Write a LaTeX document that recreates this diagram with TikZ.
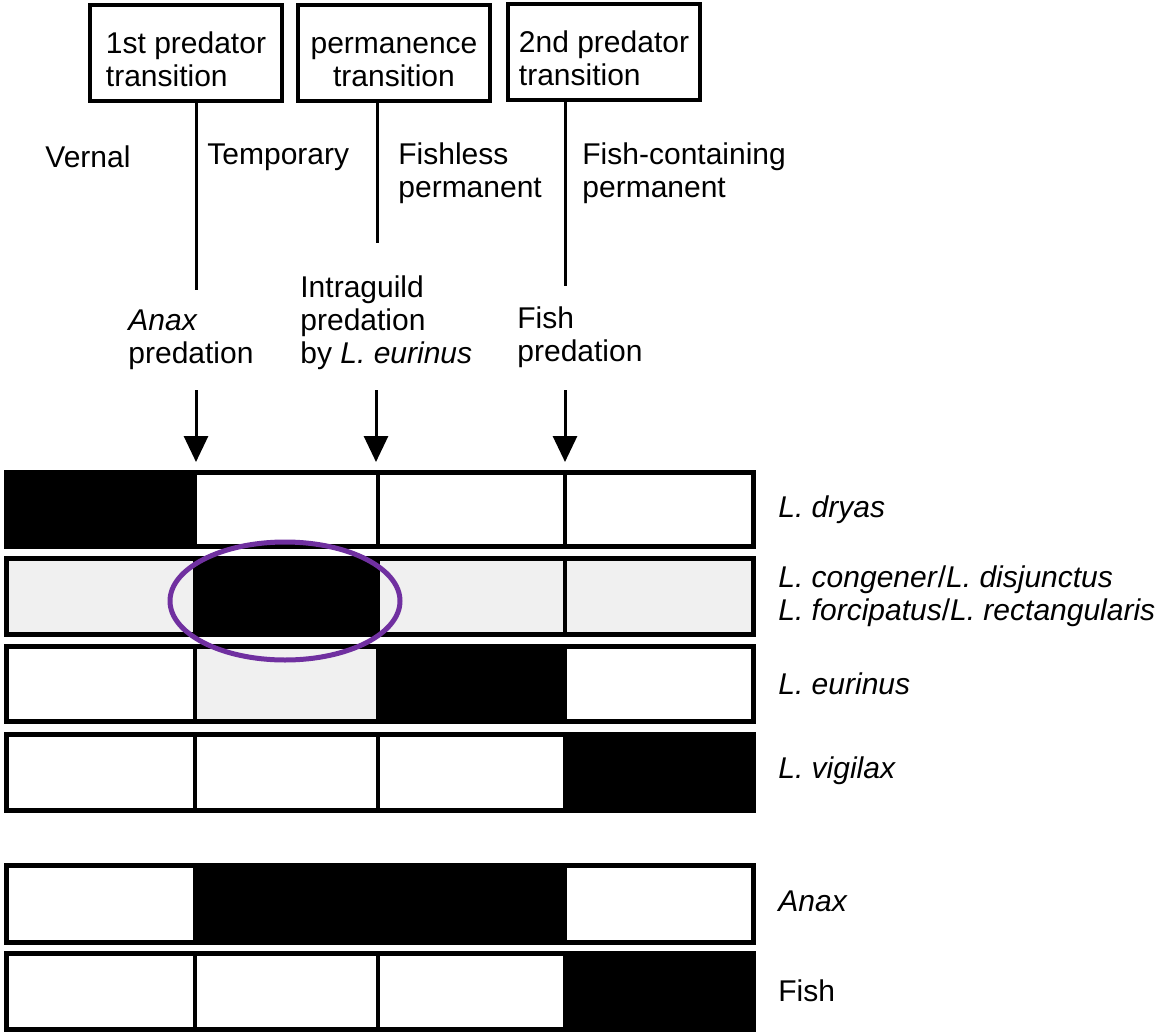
\documentclass[tikz,border=0pt]{standalone}
\usepackage{fontspec}
\setmainfont{Liberation Sans}
\usetikzlibrary{arrows.meta}
\definecolor{stip}{gray}{0.94}
\definecolor{ringpurple}{RGB}{112,48,160}
\newcommand\topstrut{\rule{0pt}{17.5pt}}
\begin{document}
\begin{tikzpicture}[x=0.5pt,y=-0.5pt,
  txt/.style={font=\fontsize{15}{16.5}\selectfont, inner sep=0pt, align=left},
  tbox/.style={txt, draw, line width=2pt, minimum width=96pt, minimum height=48pt},
  conn/.style={line width=1.5pt},
  arr/.style={line width=1.5pt, -{Triangle[width=12pt,length=13pt]}},
  barline/.style={line width=2.5pt},
  divline/.style={line width=2pt},
  ring/.style={draw=ringpurple, line width=2.5pt}
]
\useasboundingbox (0,0) rectangle (1176,1032);

% transition boxes
\node[tbox] (t1) at (186,53) {\topstrut 1st predator\\transition};
\node[tbox, align=center] (t2) at (394,53) {\topstrut permanence\\transition};
\node[tbox] (t3) at (604,52) {\topstrut 2nd predator\\transition};

% lines hanging from the boxes
\coordinate (d1) at (196,290);
\coordinate (d2) at (377,243);
\coordinate (d3) at (565,286);
\draw[conn] (t1.south -| d1) -- (d1);
\draw[conn] (t2.south -| d2) -- (d2);
\draw[conn] (t3.south -| d3) -- (d3);

% habitat names
\node[txt, anchor=west] (h1) at (45,157) {Vernal};
\node[txt, anchor=west] (h2) at (207,157) {Temporary};
\node[txt, anchor=west] (h3) at (398,173) {Fishless\\permanent};
\node[txt, anchor=west] (h4) at (582,173) {Fish-containing\\permanent};

% predation agents
\node[txt, anchor=west] (p1) at (128,340) {\textit{Anax}\\predation};
\node[txt, anchor=west] (p2) at (300,323) {Intraguild\\predation\\by \textit{L. eurinus}};
\node[txt, anchor=west] (p3) at (517,337) {Fish\\predation};

% column edges
\def\xa{6}\def\xb{195}\def\xc{378}\def\xd{565}\def\xe{753}

% arrows down to the first bar
\coordinate (a1) at (196,390);
\coordinate (a2) at (376,390);
\coordinate (a3) at (565,390);
\coordinate (r1top) at (0,462);
\draw[arr] (a1) -- (a1 |- r1top);
\draw[arr] (a2) -- (a2 |- r1top);
\draw[arr] (a3) -- (a3 |- r1top);

% bars: #1 top, #2 bottom, #3..#6 fills of the four cells
\newcommand\occbar[6]{%
  \fill[#3] (\xa,#1) rectangle (\xb,#2);
  \fill[#4] (\xb,#1) rectangle (\xc,#2);
  \fill[#5] (\xc,#1) rectangle (\xd,#2);
  \fill[#6] (\xd,#1) rectangle (\xe,#2);
  \draw[divline] (\xb,#1) -- (\xb,#2) (\xc,#1) -- (\xc,#2) (\xd,#1) -- (\xd,#2);
  \draw[barline] (\xa,#1) rectangle (\xe,#2);
}
\occbar{472}{546}{black}{white}{white}{white}
\occbar{558}{634}{stip}{black}{stip}{stip}
\occbar{646}{721}{white}{stip}{black}{white}
\occbar{734}{810}{white}{white}{white}{black}
\occbar{865}{942}{white}{black}{black}{white}
\occbar{953}{1029}{white}{white}{white}{black}

% species and predator labels
\node[txt, anchor=west] (s1) at (778,510) {\textit{L. dryas}};
\node[txt, anchor=west] (s2) at (778,596) {\textit{L. congener}/\textit{L. disjunctus}\\\textit{L. forcipatus}/\textit{L. rectangularis}};
\node[txt, anchor=west] (s3) at (778,684) {\textit{L. eurinus}};
\node[txt, anchor=west] (s4) at (778,771) {\textit{L. vigilax}};
\node[txt, anchor=west] (s5) at (778,901) {\textit{Anax}};
\node[txt, anchor=west] (s6) at (778,991) {Fish};

% highlight ring
\draw[ring] (285,601) ellipse [x radius=57.5pt, y radius=29.5pt];
\end{tikzpicture}
\end{document}
